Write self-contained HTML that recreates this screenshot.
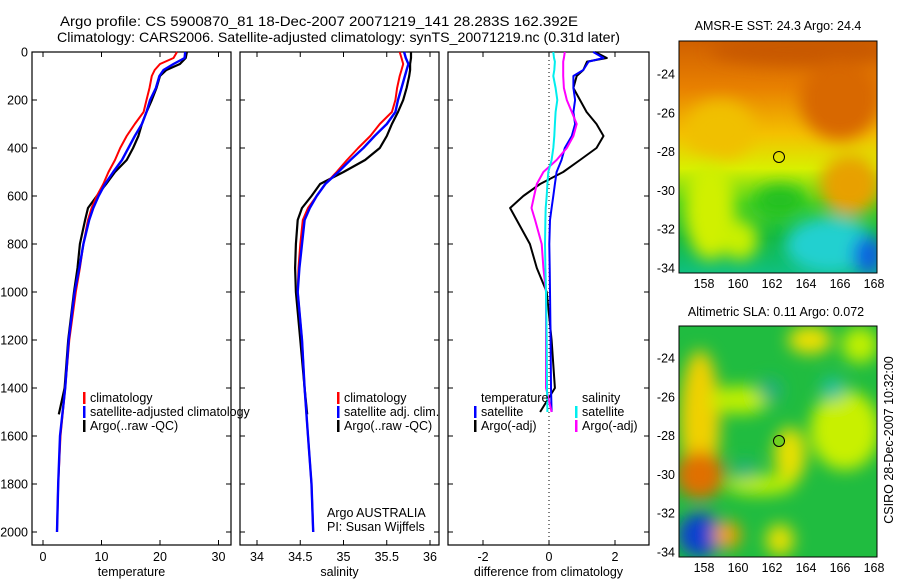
<!DOCTYPE html>
<html><head><meta charset="utf-8">
<style>
body{margin:0;background:#fff;}
svg{display:block;font-family:"Liberation Sans",sans-serif;}
</style></head>
<body>
<svg id="fig" width="900" height="580" viewBox="0 0 900 580" xmlns="http://www.w3.org/2000/svg">
<defs>
<filter id="bl" x="-50%" y="-50%" width="200%" height="200%"><feGaussianBlur stdDeviation="8"/></filter>
<clipPath id="c1"><rect x="679" y="41" width="198" height="232"/></clipPath>
<clipPath id="c2"><rect x="679" y="326" width="198" height="231"/></clipPath>
<linearGradient id="sstg" x1="0" y1="0" x2="0" y2="1">
<stop offset="0" stop-color="#d06000"/><stop offset="0.2" stop-color="#e88000"/><stop offset="0.4" stop-color="#f4c000"/>
<stop offset="0.55" stop-color="#d8f000"/><stop offset="0.7" stop-color="#40d020"/><stop offset="0.85" stop-color="#10b840"/><stop offset="1" stop-color="#10c080"/>
</linearGradient>
</defs>
<g font-size="14" fill="#000">
<text x="60" y="26" textLength="518" lengthAdjust="spacingAndGlyphs">Argo profile: CS 5900870_81 18-Dec-2007 20071219_141 28.283S 162.392E</text>
<text x="57" y="42" textLength="563" lengthAdjust="spacingAndGlyphs">Climatology: CARS2006. Satellite-adjusted climatology: synTS_20071219.nc (0.31d later)</text>
</g>
<g id="plots"></g>
<!-- SST map -->
<g>
<text x="778" y="30" font-size="12.5" text-anchor="middle">AMSR-E SST: 24.3 Argo: 24.4</text>
<g clip-path="url(#c1)">
<rect x="679" y="41" width="198" height="232" fill="url(#sstg)"/>
<g filter="url(#bl)">
<ellipse cx="800" cy="50" rx="90" ry="15" fill="#c85800"/>
<ellipse cx="840" cy="100" rx="40" ry="40" fill="#d86800"/>
<ellipse cx="720" cy="130" rx="35" ry="30" fill="#f0c000"/>
<ellipse cx="850" cy="185" rx="30" ry="30" fill="#e8a000"/>
<ellipse cx="710" cy="210" rx="25" ry="50" fill="#d0f000"/>
<ellipse cx="830" cy="245" rx="45" ry="28" fill="#20d0d0"/>
<ellipse cx="868" cy="255" rx="15" ry="20" fill="#1060e0"/>
<ellipse cx="740" cy="240" rx="18" ry="20" fill="#c8f000"/>
<ellipse cx="780" cy="200" rx="25" ry="15" fill="#20c020"/>
</g>
</g>
<rect x="679" y="41" width="198" height="232" fill="none" stroke="#000" stroke-width="1"/>
<circle cx="779" cy="157" r="5.5" fill="none" stroke="#000"/>
</g>
<!-- SLA map -->
<g>
<text x="776" y="316" font-size="12.5" text-anchor="middle">Altimetric SLA: 0.11 Argo: 0.072</text>
<g clip-path="url(#c2)">
<rect x="679" y="326" width="198" height="231" fill="#20bc40"/>
<g filter="url(#bl)">
<ellipse cx="700" cy="420" rx="20" ry="70" fill="#f0d000"/>
<ellipse cx="700" cy="475" rx="24" ry="24" fill="#e07000"/>
<ellipse cx="700" cy="535" rx="22" ry="22" fill="#1040d0"/>
<ellipse cx="727" cy="535" rx="14" ry="14" fill="#f0a000"/>
<ellipse cx="845" cy="430" rx="35" ry="40" fill="#c8f000"/>
<ellipse cx="810" cy="340" rx="22" ry="14" fill="#f0e000"/>
<ellipse cx="860" cy="345" rx="18" ry="18" fill="#c0f000"/>
<ellipse cx="790" cy="455" rx="16" ry="28" fill="#e8e000"/>
<ellipse cx="760" cy="485" rx="35" ry="10" fill="#c0f000"/>
<ellipse cx="780" cy="540" rx="14" ry="16" fill="#e8e000"/>
<ellipse cx="740" cy="400" rx="30" ry="14" fill="#c0f000"/>
<ellipse cx="833" cy="389" rx="12" ry="12" fill="#20c0a0"/>
<ellipse cx="770" cy="390" rx="12" ry="12" fill="#20b080"/>
<ellipse cx="745" cy="470" rx="12" ry="10" fill="#20b080"/>
</g>
</g>
<rect x="679" y="326" width="198" height="231" fill="none" stroke="#000" stroke-width="1"/>
<circle cx="779" cy="441" r="5.5" fill="#70d020" stroke="#000"/>
</g>
<text transform="translate(893,440) rotate(-90)" font-size="12.5" text-anchor="middle">CSIRO 28-Dec-2007 10:32:00</text>
</svg>
<script>
// ---------- data ----------
const depths = [0,25,50,75,100,150,200,250,300,350,400,450,500,550,600,650,700,800,900,1000,1200,1400,1600,1800,2000];
const tempClim = [22.9,22.3,20.0,19.1,18.6,18.2,17.7,17.2,15.7,14.3,13.2,12.3,11.2,10.3,9.2,8.3,7.7,6.9,6.3,5.6,4.5,3.8,3.0,2.6,2.4];
const tempSat  = [24.3,24.2,22.3,20.6,19.9,19.3,18.3,17.7,16.9,15.7,14.6,13.5,12.0,10.6,9.5,8.6,7.9,6.9,6.2,5.4,4.4,3.8,2.9,2.6,2.4];
const tempArgoDepths = [0,25,50,75,100,150,200,250,300,350,400,450,500,550,600,650,700,800,900,1000,1200,1400,1510];
const tempArgo = [24.6,24.4,23.4,21.1,20.0,19.4,18.6,17.7,16.9,16.3,15.4,14.3,12.3,10.8,9.2,7.7,7.2,6.3,5.9,5.3,4.3,3.7,2.7];
const salClim = [35.65,35.67,35.69,35.67,35.65,35.62,35.6,35.56,35.42,35.31,35.17,35.04,34.92,34.79,34.69,34.59,34.53,34.5,34.48,34.47,34.52,34.55,34.59,34.63,34.65];
const salSat  = [35.7,35.72,35.75,35.73,35.71,35.67,35.63,35.6,35.5,35.36,35.23,35.08,34.94,34.79,34.69,34.61,34.55,34.52,34.49,34.47,34.52,34.55,34.59,34.63,34.65];
const salArgo = [35.78,35.78,35.77,35.77,35.76,35.73,35.69,35.63,35.56,35.5,35.42,35.25,35.0,34.73,34.63,34.52,34.47,34.45,34.44,34.45,34.5,34.55,34.58];
const diffDepths = [0,25,40,75,100,150,200,250,300,350,400,450,500,550,600,650,700,800,900,1000,1200,1400,1500];
const dTempSat  = [1.34,1.65,1.2,1.04,0.74,0.74,0.79,0.74,0.79,0.69,0.48,0.38,0.23,0.18,0.13,0.08,0.03,0.01,0.02,0.03,0.05,0.06,0.08];
const dTempArgo = [1.4,1.75,1.15,1.04,0.84,0.74,0.94,1.14,1.44,1.65,1.44,0.94,0.43,-0.27,-0.78,-1.18,-0.98,-0.58,-0.37,-0.07,0.08,0.18,-0.27];
const dSalSat   = [0.13,0.15,0.18,0.16,0.13,0.2,0.25,0.2,0.18,0.16,0.13,0.08,-0.02,-0.05,-0.07,-0.1,-0.11,-0.12,-0.11,-0.09,-0.07,-0.06,-0.05];
const dSalArgo  = [0.48,0.45,0.43,0.43,0.43,0.45,0.54,0.69,0.84,0.74,0.54,0.23,-0.17,-0.37,-0.45,-0.53,-0.42,-0.22,-0.17,-0.09,-0.09,-0.09,0.08];
const depthTicks = [0,200,400,600,800,1000,1200,1400,1600,1800,2000];
const tempTicks = [0,10,20,30];
const salTicks = [34,34.5,35,35.5,36];
const diffTicks = [-2,0,2];

// ---------- axes ----------
const NS='http://www.w3.org/2000/svg';
const root=document.getElementById('plots');
const Y0=52, Y1=545;
const yD = d => 52 + d*0.24;
const xT = v => 43 + v*5.85;
const xS = v => 257 + (v-34)*86.5;
const xDf = v => 549 + v*33;
function mk(tag,attrs,parent){const e=document.createElementNS(NS,tag);for(const k in attrs)e.setAttribute(k,attrs[k]);(parent||root).appendChild(e);return e;}
function line(xs,ys,color,name,w){
  const pts=xs.map((x,i)=>x.toFixed(1)+','+ys[i].toFixed(1)).join(' ');
  const p=mk('polyline',{points:pts,fill:'none',stroke:color,'stroke-width':w||2,'stroke-linejoin':'round'});
  
  
}
function panel(x0,x1,xs,ticks,fmt,label,name,withY){
  const g=mk('g',{});
  
  
  mk('rect',{x:x0,y:Y0,width:x1-x0,height:Y1-Y0,fill:'none',stroke:'#000','stroke-width':1.2},g);
  ticks.forEach(t=>{const x=xs(t);
    mk('line',{x1:x,x2:x,y1:Y1,y2:Y1-5,stroke:'#000'},g);
    mk('line',{x1:x,x2:x,y1:Y0,y2:Y0+5,stroke:'#000'},g);
    const tx=mk('text',{x:x,y:561,'font-size':12.5,'text-anchor':'middle'},g);tx.textContent=fmt(t);
    
    
  });
  depthTicks.forEach(d=>{const y=yD(d);
    mk('line',{x1:x0,x2:x0+5,y1:y,y2:y,stroke:'#000'},g);
    mk('line',{x1:x1,x2:x1-5,y1:y,y2:y,stroke:'#000'},g);
    if(withY){const tx=mk('text',{x:28,y:y+4.5,'font-size':12.5,'text-anchor':'end'},g);tx.textContent=d;
      
      }
  });
  const lb=mk('text',{x:(x0+x1)/2,y:576,'font-size':12.5,'text-anchor':'middle'},g);lb.textContent=label;
  
  
}
panel(32,231,xT,tempTicks,String,'temperature','temperature-panel',true);
panel(240,439,xS,salTicks,String,'salinity','salinity-panel',false);
panel(448,649,xDf,diffTicks,String,'difference from climatology','difference-panel',false);
mk('line',{x1:549,x2:549,y1:Y0,y2:Y1,stroke:'#000','stroke-dasharray':'1,3'});

line(tempArgoDepths.map((d,i)=>xT(tempArgo[i])),tempArgoDepths.map(yD),'#000','temp-argo-line',2.2);
line(depths.map((d,i)=>xT(tempClim[i])),depths.map(yD),'#f00','temp-clim-line');
line(depths.map((d,i)=>xT(tempSat[i])),depths.map(yD),'#00f','temp-sat-line',2.4);
line(tempArgoDepths.map((d,i)=>xS(salArgo[i])),tempArgoDepths.map(yD),'#000','sal-argo-line',2.2);
line(depths.map((d,i)=>xS(salClim[i])),depths.map(yD),'#f00','sal-clim-line');
line(depths.map((d,i)=>xS(salSat[i])),depths.map(yD),'#00f','sal-sat-line',2.4);
line(diffDepths.map((d,i)=>xDf(dTempArgo[i])),diffDepths.map(yD),'#000','dtemp-argo-line');
line(diffDepths.map((d,i)=>xDf(dTempSat[i])),diffDepths.map(yD),'#00f','dtemp-sat-line');
line(diffDepths.map((d,i)=>xDf(dSalArgo[i])),diffDepths.map(yD),'#f0f','dsal-argo-line');
line(diffDepths.map((d,i)=>xDf(dSalSat[i])),diffDepths.map(yD),'#0ee','dsal-sat-line');

function legend(x,y,color,text,name){
  if(color){mk('rect',{x:x-7,y:y-10,width:2.5,height:12,fill:color});}
  const t=mk('text',{x:x,y:y,'font-size':12.5},root);t.textContent=text;
  
  
}
legend(90,402,'#f00','climatology','legend-climatology');
legend(90,416,'#00f','satellite-adjusted climatology','legend-sat-adj');
legend(90,430,'#000','Argo(..raw -QC)','legend-argo');
legend(344,402,'#f00','climatology','legend-sal-climatology');
legend(344,416,'#00f','satellite adj. clim.','legend-sal-sat-adj');
legend(344,430,'#000','Argo(..raw -QC)','legend-sal-argo');
legend(481,402,null,'temperature','legend-temperature-heading');
legend(481,416,'#00f','satellite','legend-temp-satellite');
legend(481,430,'#000','Argo(-adj)','legend-temp-argo');
legend(582,402,null,'salinity','legend-salinity-heading');
legend(582,416,'#0ee','satellite','legend-sal-satellite');
legend(582,430,'#f0f','Argo(-adj)','legend-sal-argo-adj');
legend(327,517,null,'Argo AUSTRALIA','agency-label');
legend(327,531,null,'PI: Susan Wijffels','pi-label');

// map ticks
const lonTicks=[158,160,162,164,166,168];
const latTicks=[-24,-26,-28,-30,-32,-34];
[[41,273,74],[326,557,358]].forEach(([t,b,y24],mi)=>{
  lonTicks.forEach(l=>{const x=704+(l-158)*17;
    mk('line',{x1:x,x2:x,y1:b,y2:b-4,stroke:'#000'});mk('line',{x1:x,x2:x,y1:t,y2:t+4,stroke:'#000'});
    const tx=mk('text',{x:x,y:b+15,'font-size':12.5,'text-anchor':'middle'});tx.textContent=l;
    
    });
  latTicks.forEach(l=>{const y=y24+(-24-l)*19.4;
    mk('line',{x1:679,x2:683,y1:y,y2:y,stroke:'#000'});mk('line',{x1:877,x2:873,y1:y,y2:y,stroke:'#000'});
    const tx=mk('text',{x:675,y:y+4.5,'font-size':12.5,'text-anchor':'end'});tx.textContent=l;
    
    });
});
</script>
</body></html>
